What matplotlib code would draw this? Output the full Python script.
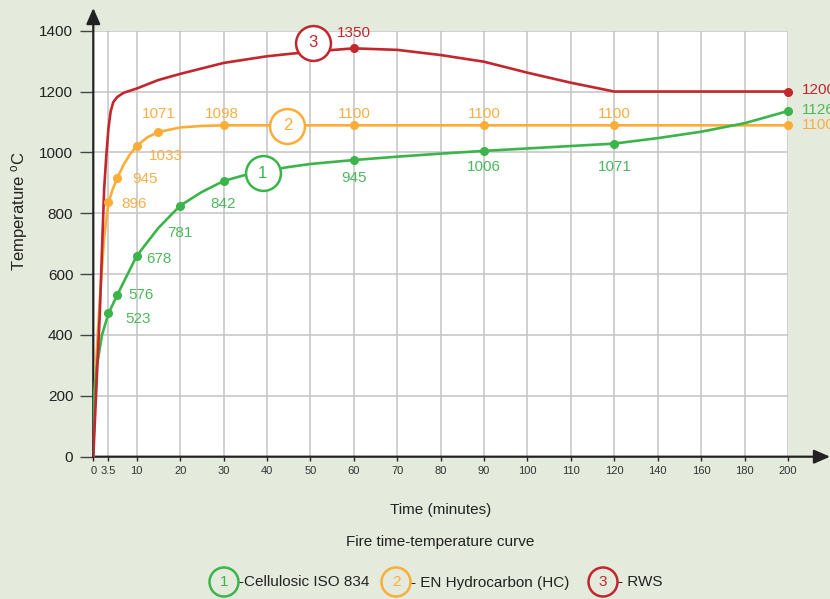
import numpy as np
import matplotlib.pyplot as plt
from matplotlib.patches import Circle

plt.rcParams['font.family'] = ['Liberation Sans', 'DejaVu Sans']
plt.rcParams['mathtext.default'] = 'regular'

# time axis: 10 min steps up to 120, then 20 min steps
xticks = [0, 3.5, 10, 20, 30, 40, 50, 60, 70, 80, 90, 100, 110, 120, 140, 160, 180, 200]
xtick_labels = ['0', '3.5', '10', '20', '30', '40', '50', '60', '70', '80', '90', '100',
                '110', '120', '140', '160', '180', '200']
yticks = [0, 200, 400, 600, 800, 1000, 1200, 1400]

# 1 - Cellulosic ISO 834 (green)
iso_t = [0, 0.15, 0.8, 2, 3.5, 5.5, 10, 15, 20, 25, 30, 35, 40, 45, 50, 60, 70, 80, 90,
         100, 110, 120, 140, 160, 180, 200]
iso_T = [0, 190, 296, 400, 471, 531, 660, 752, 825, 870, 906, 926, 940, 952, 962, 975, 986,
         996, 1005, 1013, 1021, 1029, 1047, 1068, 1096, 1136]
iso_mark_t = [3.5, 5.5, 10, 20, 30, 60, 90, 120, 200]
iso_mark_T = [471, 531, 660, 825, 906, 975, 1005, 1029, 1136]
iso_labels = ['523', '576', '678', '781', '842', '945', '1006', '1071', '1126']

# 2 - EN Hydrocarbon (orange)
hc_t = [0, 0.4, 0.85, 1.3, 1.8, 2.5, 3.5, 4.5, 5.5, 7, 8.5, 10, 12.5, 15, 20, 25, 30, 60,
        90, 120, 200]
hc_T = [0, 240, 361, 470, 580, 720, 836, 880, 915, 960, 995, 1021, 1050, 1067, 1082, 1087,
        1089, 1089, 1089, 1089, 1089]
hc_mark_t = [3.5, 5.5, 10, 15, 30, 60, 90, 120, 200]
hc_mark_T = [836, 915, 1021, 1067, 1089, 1089, 1089, 1089, 1089]
hc_labels = ['896', '945', '1033', '1071', '1098', '1100', '1100', '1100', '1100']

# 3 - RWS (red)
rws_t = [0, 0.5, 1, 1.5, 2, 2.5, 3, 3.5, 4, 4.6, 5.5, 7, 10, 15, 20, 30, 40, 50, 60, 70,
         80, 90, 100, 110, 120, 200]
rws_T = [0, 160, 320, 470, 680, 880, 990, 1080, 1135, 1165, 1182, 1196, 1210, 1238, 1258,
         1294, 1316, 1331, 1342, 1337, 1320, 1298, 1262, 1229, 1200, 1200]
rws_mark_t = [60, 200]
rws_mark_T = [1342, 1200]
rws_labels = ['1350', '1200']

bg = '#e4ebdd'
green, orange, red = '#3bb44a', '#fbad37', '#c1272d'
green_txt, orange_txt, red_txt = '#4cb85c', '#f8ae45', '#c1272d'


def fwd(t):
    t = np.asarray(t, dtype=float)
    return np.where(t <= 120, t, 120 + (t - 120) / 2)


def inv(u):
    u = np.asarray(u, dtype=float)
    return np.where(u <= 120, u, 120 + (u - 120) * 2)


fig = plt.figure(figsize=(8.3, 5.99), dpi=100, facecolor=bg)
ax = fig.add_axes([93.3 / 830, 142.3 / 599, 694.7 / 830, 426 / 599])
ax.set_xscale('function', functions=(fwd, inv))
ax.set_xlim(0, 200)
ax.set_ylim(0, 1400)
ax.set_xticks(xticks)
ax.set_xticklabels(xtick_labels)
ax.set_yticks(yticks)
ax.grid(color='#c4c4c4', lw=1.1)
ax.set_axisbelow(True)
for s in ax.spines.values():
    s.set_visible(False)
ax.tick_params(axis='y', length=9.4, width=1.0, color='#444444', pad=5, labelsize=11,
               labelcolor='#222222')
ax.tick_params(axis='x', length=3, width=1.0, color='#222222', pad=4, labelsize=8,
               labelcolor='#333333')

# axis arrows
arrow = dict(arrowstyle='-|>,head_length=0.8,head_width=0.35', mutation_scale=12, lw=1.6,
             color='#222222', shrinkA=0, shrinkB=0)
ax.annotate('', xy=(1.0605, 0), xytext=(0, 0), xycoords='axes fraction',
            arrowprops=arrow, annotation_clip=False)
ax.annotate('', xy=(0, 1.0533), xytext=(0, 0), xycoords='axes fraction',
            arrowprops=arrow, annotation_clip=False)

# curves
ax.plot(hc_t, hc_T, color=orange, lw=1.9, zorder=3)
ax.plot(iso_t, iso_T, color=green, lw=1.9, zorder=3)
ax.plot(rws_t, rws_T, color=red, lw=1.9, zorder=3)
ax.plot(hc_mark_t, hc_mark_T, 'o', color=orange, ms=5.5, zorder=4, clip_on=False)
ax.plot(iso_mark_t, iso_mark_T, 'o', color=green, ms=5.5, zorder=4, clip_on=False)
ax.plot(rws_mark_t, rws_mark_T, 'o', color=red, ms=5.5, zorder=4, clip_on=False)

# value labels (offsets in points)
iso_off = [(12, -4, 'left'), (8, 0, 'left'), (7, -2, 'left'), (0, -20, 'center'),
           (0, -16.5, 'center'), (0, -13, 'center'), (0, -11.5, 'center'),
           (0, -17, 'center'), (10, 0.7, 'left')]
hc_off = [(9.5, -1.5, 'left'), (10.5, -0.7, 'left'), (9, -7, 'left'), (0, 13, 'center'),
          (-1.5, 8, 'center'), (0, 8, 'center'), (0, 8, 'center'), (0, 8, 'center'),
          (10, 0, 'left')]
rws_off = [(0, 11, 'center'), (10, 1, 'left')]

for ts, Ts, labs, offs, c in [(iso_mark_t, iso_mark_T, iso_labels, iso_off, green_txt),
                              (hc_mark_t, hc_mark_T, hc_labels, hc_off, orange_txt),
                              (rws_mark_t, rws_mark_T, rws_labels, rws_off, red_txt)]:
    for t, T, lab, (dx, dy, ha) in zip(ts, Ts, labs, offs):
        ax.annotate(lab, (t, T), xytext=(dx, dy), textcoords='offset points', ha=ha,
                    va='center', fontsize=11, color=c, annotation_clip=False, zorder=5)

# numbered circles on the curves
for t, T, num, c in [(39, 932, '1', green), (44.7, 1087, '2', orange), (50.7, 1360, '3', red)]:
    ax.scatter([t], [T], s=630, facecolor='white', edgecolor=c, lw=1.8, zorder=6,
               clip_on=False)
    ax.text(t, T, num, ha='center', va='center', fontsize=12, color=c, zorder=7)

# axis texts
fig.text(20 / 830, 1 - 211 / 599, 'Temperature $^{o}$C', rotation=90, ha='center',
         va='center', fontsize=12, color='#222222')
fig.text(440.6 / 830, 1 - 510 / 599, 'Time (minutes)', ha='center', va='center',
         fontsize=11, color='#222222')
fig.text(440.6 / 830, 1 - 542 / 599, 'Fire time-temperature curve', ha='center',
         va='center', fontsize=11, color='#222222')

# legend row
lg = fig.add_axes([0, 0, 1, 1])
lg.set_xlim(0, 830)
lg.set_ylim(599, 0)
lg.axis('off')
lg.patch.set_alpha(0)
for cx, num, c, label in [(224, '1', green, '-Cellulosic ISO 834'),
                          (396, '2', orange, '- EN Hydrocarbon (HC)'),
                          (603, '3', red, '- RWS')]:
    lg.add_patch(Circle((cx, 582), 14.5, fc='none', ec=c, lw=1.8))
    lg.text(cx, 582.5, num, ha='center', va='center', fontsize=11, color=c)
    lg.text(cx + 15, 582.5, label, ha='left', va='center', fontsize=11, color='#222222')

fig.savefig('out.png', dpi=100, facecolor=bg)
